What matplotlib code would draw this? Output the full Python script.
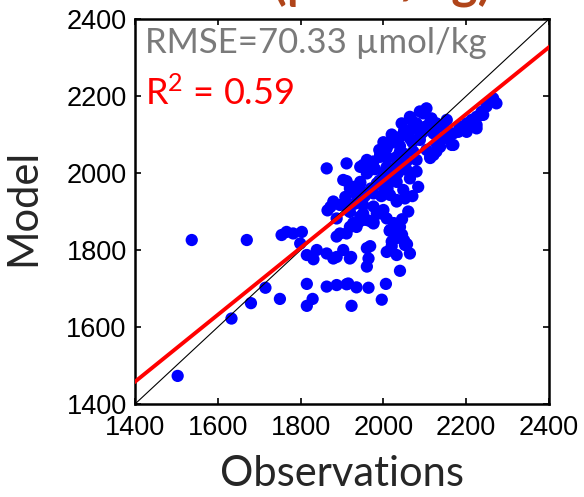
import numpy as np
import matplotlib
matplotlib.use("Agg")
import matplotlib.pyplot as plt

obs = [1503, 1537, 1633, 1670, 1680, 1715, 1750,
       1754, 1766, 1782, 1803, 1799, 1815, 1831, 1839,
       1815, 1829, 1815,
       1863, 1887, 1911, 1915, 1935, 1964, 2006,
       1923, 1996,
       1863, 1879, 1903, 1919, 1887, 1922,
       1960, 1964, 1968, 1960,
       2016, 2028, 2020, 2052, 2064, 2032, 2040,
       1887, 1911, 1895, 1919, 1935,
       1863, 1911, 1911, 1903,
       1865, 1880, 1872, 1908, 1915, 1912,
       1927, 1950, 1968, 1940,
       1951, 1976, 1984, 2000,
       1879, 1887, 1895, 1919,
       1944, 1960, 1992, 2016, 2040, 2064, 2032, 2000, 2048, 2032,
       1992, 1960, 1944, 1976, 1984, 2008, 1960, 1944, 1976, 2000,
       2016, 2056, 2080, 2104, 2128, 2137, 2113, 2088, 2121, 2145,
       2153, 2128, 2080, 2064, 2116,
       2104, 2088, 2044, 2068, 1951, 1919, 2084, 2052, 2032, 2016,
       2241, 2225, 2201, 2169, 2153, 2128, 2113, 2080, 2064, 2128,
       2113, 2024, 2008, 1992, 1976, 1960, 1944, 1935, 1951, 1992,
       2008, 1976, 2032, 2056, 2072, 2032, 2040, 2064, 2096,
       1968, 2096, 1944, 1927,
       2008, 2020, 2030, 2045, 2050, 2057, 2040, 2015,
       2070, 2060, 2045, 2025,
       2265, 2273, 2249, 2237, 2225, 2213, 2201, 2193, 2181, 2169,
       2165, 2153, 2137, 2121, 2225, 2237, 2257, 2185,
       1990, 2000, 2020, 2050, 2040, 2010, 1980, 1990, 2020, 2050,
       2070, 2090, 1970, 1995, 2010, 2035, 1930, 1955, 2100, 2075]
model = [1473, 1826, 1622, 1826, 1662, 1702, 1673,
         1839, 1847, 1843, 1847, 1817, 1787, 1776, 1800,
         1712, 1673, 1655,
         1705, 1709, 1711, 1713, 1703, 1702, 1712,
         1655, 1671,
         1791, 1778, 1800, 1778, 1782, 1782,
         1757, 1778, 1810, 1805,
         1852, 1835, 1822, 1813, 1791, 1787, 1746,
         1835, 1843, 1843, 1860, 1860,
         2012, 2025, 1979, 1982,
         1903, 1921, 1912, 1938, 1903, 1920,
         1870, 1878, 1875, 1872,
         1895, 1869, 1895, 1904,
         1926, 1882, 1917, 1899,
         2016, 2034, 2042, 2077, 2094, 2112, 2042, 1999, 1956, 1930,
         1895, 1878, 1887, 1913, 1973, 2016, 1999, 1956, 1947, 1964,
         1982, 2008, 2034, 2060, 2077, 2068, 2042, 2086, 2103, 2120,
         2138, 2129, 2129, 2146, 2142,
         2168, 2160, 2129, 2138, 2021, 1960, 1964, 1934, 1926, 1943,
         2151, 2125, 2107, 2073, 2090, 2056, 2039, 2004, 1986, 2116,
         2133, 2090, 2064, 2047, 2030, 2004, 1977, 1943, 1917, 1899,
         1882, 1873, 1977, 2030, 2056, 2021, 2056, 2090, 2107,
         2008, 2155, 1973, 1964,
         1795, 1810, 1830, 1840, 1825, 1815, 1860, 1850,
         1940, 1900, 1880, 1870,
         2194, 2181, 2173, 2159, 2146, 2138, 2129, 2116, 2107, 2103,
         2073, 2094, 2086, 2047, 2116, 2151, 2185, 2120,
         2060, 2080, 2100, 2110, 2070, 2040, 2010, 1980, 2000, 2050,
         2080, 2100, 1960, 1940, 1960, 2000, 1920, 1940, 2120, 2115]

fit_slope = 0.869
fit_intercept = 1458 - 0.869 * 1400
rmse_text = "RMSE=70.33 \u00b5mol/kg"
r2_text = r"R$^2$ = 0.59"
title_text = "(\u00b5mol/kg)"

plt.rcParams['font.family'] = ['Liberation Sans', 'DejaVu Sans']
plt.rcParams['mathtext.fontset'] = 'custom'
plt.rcParams['mathtext.rm'] = 'Lato'
plt.rcParams['mathtext.it'] = 'Lato'
plt.rcParams['mathtext.default'] = 'regular'

fig = plt.figure(figsize=(5.84, 4.97), dpi=100)
ax = fig.add_axes([0.2312, 0.1871, 0.7089, 0.7746])

ax.scatter(obs, model, s=78, color='#0000ff', edgecolors='none', zorder=2)

xx = np.array([1400, 2400])
ax.plot(xx, xx, color='black', lw=0.8, zorder=3)
ax.plot(xx, fit_slope * xx + fit_intercept, color='#ff0000', lw=2.8, zorder=4)

ax.set_xlim(1400, 2400)
ax.set_ylim(1400, 2400)
ticks = [1400, 1600, 1800, 2000, 2200, 2400]
ax.set_xticks(ticks)
ax.set_yticks(ticks)
ax.tick_params(direction='in', length=4, width=1.2, top=True, right=True,
               labelsize=19.5)
ax.tick_params(axis='x', pad=8)
ax.tick_params(axis='y', pad=6)
for s in ax.spines.values():
    s.set_linewidth(1.8)

lab = dict(family='Lato', fontsize=30, color='#262626')
ax.set_xlabel("Observations", labelpad=10, **lab)
ax.set_ylabel("Model", **lab)
ax.yaxis.set_label_coords(-0.225, 0.51)

ax.text(0.024, 0.912, rmse_text, transform=ax.transAxes, family='Lato',
        fontsize=25, color='#7a7a7a', va='baseline')
ax.text(0.024, 0.777, r2_text, transform=ax.transAxes, family='Lato',
        fontsize=26, color='#ff0000', va='baseline')

# title is cut by the top edge in the reference
fig.text(272 / 584, 1.004, title_text, family='Lato', fontweight='bold',
         fontsize=36, color='#b0451a', va='baseline')

fig.savefig('out.png', dpi=100)
